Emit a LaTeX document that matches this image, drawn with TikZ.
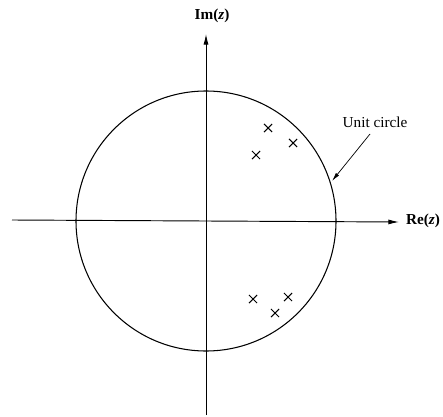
\documentclass[tikz,border=0pt]{standalone}
\usepackage{fontspec}
\setmainfont{Liberation Serif}
\usetikzlibrary{arrows.meta, shapes.misc}
\tikzset{
  Axis/.style   = {line width=0.8pt, -{Latex[length=3.2mm, width=1.5mm]}},
  Unit/.style   = {line width=0.9pt},
  Pole/.style   = {cross out, draw, line width=0.9pt, minimum size=2.1mm, inner sep=0pt},
  AxLab/.style  = {font=\fontsize{13}{15}\selectfont\bfseries, inner sep=1pt},
  Note/.style   = {font=\fontsize{13}{15}\selectfont, inner sep=1pt},
  Pointer/.style= {line width=0.6pt, -{Latex[length=2.6mm, width=1.2mm]}},
}

\begin{document}
\begin{tikzpicture}[x=0.3mm, y=-0.3mm]
\useasboundingbox (0,0) rectangle (443,417);

% ======================= axes and circle ================================
\coordinate (O)    at (206,221);
\coordinate (xlo)  at (12,220);
\coordinate (xhi)  at (399,222);
\coordinate (ylo)  at (206,415);
\coordinate (yhi)  at (206,34);
\draw[Axis] (xlo) -- (xhi);
\draw[Axis] (ylo) -- (yhi);
\draw[Unit] (O) circle[radius=39mm];

\node[AxLab] (re) at (423,221) {Re(\textit{z})};
\node[AxLab] (im) at (212,16) {Im(\textit{z})};

% ======================= poles ==========================================
\foreach \a/\b [count=\i] in {268/128, 293/143, 256/155, 253/299, 288/297, 275/313}
    \node[Pole] (p\i) at (\a,\b) {};

% ======================= label ==========================================
\node[Note] (unit) at (375,122) {Unit circle};
\coordinate (rim) at (332,181);
\draw[Pointer] (370,134) -- (rim);

\end{tikzpicture}
\end{document}
